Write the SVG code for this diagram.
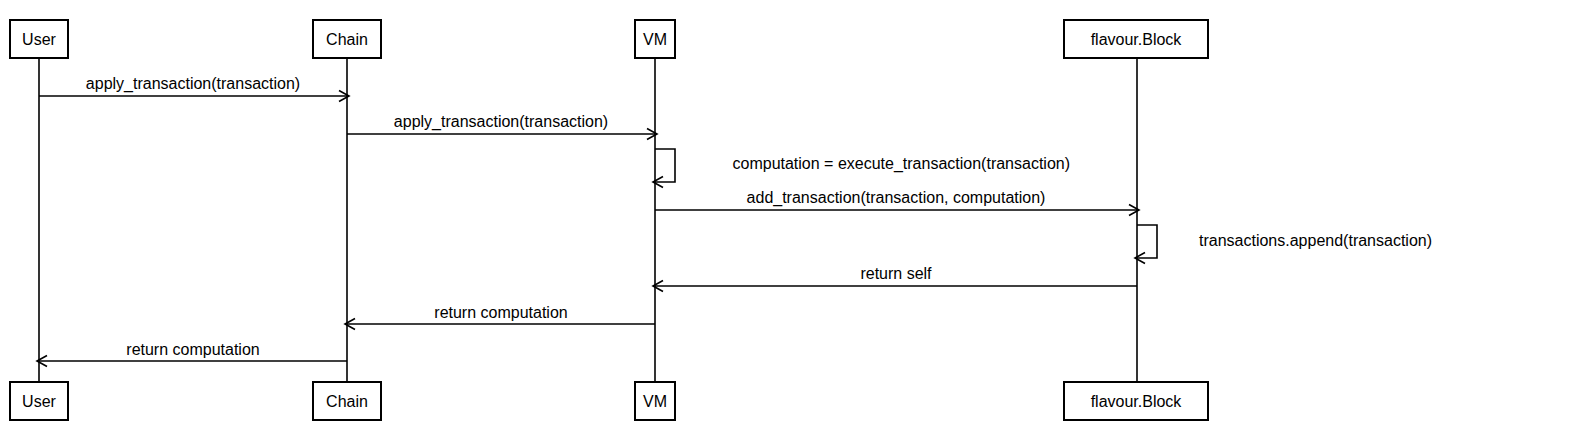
<svg xmlns="http://www.w3.org/2000/svg" width="1587" height="440" viewBox="0 0 1587 440">
<style>
  .box { fill: #ffffff; stroke: #000000; stroke-width: 2; }
  .life { stroke: #000000; stroke-width: 1.6; fill: none; }
  .msg { stroke: #000000; stroke-width: 1.6; fill: none; }
  .head { stroke: #000000; stroke-width: 1.6; fill: none; }
  text { font-family: "Liberation Sans", Arial, sans-serif; font-size: 16px; fill: #000000; }
  .c { text-anchor: middle; }
</style>
<rect width="1587" height="440" fill="#ffffff"/>
<g id="lifelines">
  <line class="life" x1="39" y1="58" x2="39" y2="382"/>
  <line class="life" x1="347" y1="58" x2="347" y2="382"/>
  <line class="life" x1="655" y1="58" x2="655" y2="382"/>
  <line class="life" x1="1137" y1="58" x2="1137" y2="382"/>
</g>
<g id="user-top"><rect class="box" x="10" y="20" width="58" height="38"/><text class="c" x="39" y="45">User</text></g>
<g id="chain-top"><rect class="box" x="313" y="20" width="68" height="38"/><text class="c" x="347" y="45">Chain</text></g>
<g id="vm-top"><rect class="box" x="635" y="20" width="40" height="38"/><text class="c" x="655" y="45">VM</text></g>
<g id="block-top"><rect class="box" x="1064" y="20" width="144" height="38"/><text class="c" x="1136" y="45">flavour.Block</text></g>
<g id="user-bottom"><rect class="box" x="10" y="382" width="58" height="38"/><text class="c" x="39" y="407">User</text></g>
<g id="chain-bottom"><rect class="box" x="313" y="382" width="68" height="38"/><text class="c" x="347" y="407">Chain</text></g>
<g id="vm-bottom"><rect class="box" x="635" y="382" width="40" height="38"/><text class="c" x="655" y="407">VM</text></g>
<g id="block-bottom"><rect class="box" x="1064" y="382" width="144" height="38"/><text class="c" x="1136" y="407">flavour.Block</text></g>
<g id="connectors">
  <line class="msg" x1="39" y1="96" x2="349" y2="96"/>
  <polyline class="head" points="339,90.5 349,96 339,101.5"/>
  <text class="c" x="193" y="89">apply_transaction(transaction)</text>

  <line class="msg" x1="347" y1="134" x2="657" y2="134"/>
  <polyline class="head" points="647,128.5 657,134 647,139.5"/>
  <text class="c" x="501" y="127">apply_transaction(transaction)</text>

  <polyline class="msg" points="655,149 675,149 675,182 653,182"/>
  <polyline class="head" points="663,176.5 653,182 663,187.5"/>
  <text x="732.5" y="169">computation = execute_transaction(transaction)</text>

  <line class="msg" x1="655" y1="210" x2="1139" y2="210"/>
  <polyline class="head" points="1129,204.5 1139,210 1129,215.5"/>
  <text class="c" x="896" y="203">add_transaction(transaction, computation)</text>

  <polyline class="msg" points="1137,225 1157,225 1157,258 1135,258"/>
  <polyline class="head" points="1145,252.5 1135,258 1145,263.5"/>
  <text x="1199" y="246">transactions.append(transaction)</text>

  <line class="msg" x1="1137" y1="286" x2="653" y2="286"/>
  <polyline class="head" points="663,280.5 653,286 663,291.5"/>
  <text class="c" x="896" y="278.5">return self</text>

  <line class="msg" x1="655" y1="324" x2="345" y2="324"/>
  <polyline class="head" points="355,318.5 345,324 355,329.5"/>
  <text class="c" x="501" y="317.5">return computation</text>

  <line class="msg" x1="347" y1="361" x2="37" y2="361"/>
  <polyline class="head" points="47,355.5 37,361 47,366.5"/>
  <text class="c" x="193" y="355">return computation</text>
</g>
</svg>
